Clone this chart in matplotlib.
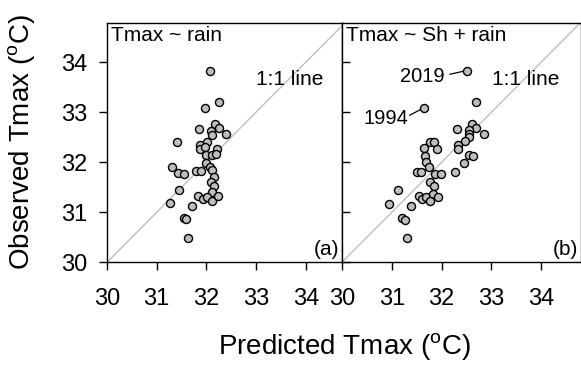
import matplotlib
matplotlib.use("Agg")
import matplotlib.pyplot as plt

plt.rcParams['font.family'] = ['Liberation Sans', 'DejaVu Sans']
plt.rcParams['mathtext.fontset'] = 'custom'
plt.rcParams['mathtext.rm'] = 'Liberation Sans'
plt.rcParams['mathtext.it'] = 'Liberation Sans:italic'

# Panel (a): Tmax ~ rain
pred_a = [32.07, 32.25, 31.97, 32.17, 32.25, 31.86, 32.09, 32.39, 32.11, 31.40,
          32.02, 31.87, 31.87, 31.97, 32.22, 31.99, 32.11, 32.19, 31.99, 32.07,
          32.12, 31.31, 31.42, 31.55, 31.80, 31.89, 32.16, 32.09, 32.16, 31.44,
          32.12, 31.84, 31.94, 32.02, 32.11, 32.23, 31.27, 31.71, 31.54, 31.59,
          31.64]
obs_a = [33.83, 33.21, 33.08, 32.76, 32.69, 32.66, 32.62, 32.57, 32.54, 32.41,
         32.41, 32.34, 32.27, 32.31, 32.27, 32.14, 32.14, 32.16, 31.99, 31.91,
         31.85, 31.91, 31.79, 31.77, 31.82, 31.82, 31.71, 31.61, 31.52, 31.45,
         31.41, 31.33, 31.27, 31.31, 31.22, 31.33, 31.19, 31.13, 30.89, 30.86,
         30.49]

# Panel (b): Tmax ~ Sh + rain
pred_b = [32.52, 31.64, 32.70, 32.62, 32.70, 32.56, 32.31, 32.86, 32.55, 32.55,
          32.47, 32.33, 32.33, 31.76, 31.84, 31.64, 31.91, 31.66, 32.56, 32.63,
          32.45, 31.69, 31.75, 32.26, 31.50, 31.58, 31.86, 31.99, 31.77, 31.84,
          31.12, 31.54, 31.60, 31.69, 31.82, 31.92, 31.77, 30.95, 31.39, 31.21,
          31.27, 31.31]
obs_b = [33.83, 33.08, 33.21, 32.77, 32.69, 32.64, 32.66, 32.57, 32.56, 32.51,
         32.42, 32.34, 32.26, 32.41, 32.41, 32.29, 32.27, 32.13, 32.14, 32.12,
         31.99, 32.00, 31.91, 31.81, 31.81, 31.81, 31.77, 31.77, 31.61, 31.52,
         31.44, 31.32, 31.27, 31.31, 31.37, 31.31, 31.22, 31.17, 31.12, 30.89,
         30.85, 30.49]

ticks = [30, 31, 32, 33, 34]
titles = ["Tmax ~ rain", "Tmax ~ Sh + rain"]
panel_tags = ["(a)", "(b)"]
labelled_years = ["2019", "1994"]
labelled_pts = [(32.52, 33.83), (31.64, 33.08)]

fig = plt.figure(figsize=(5.81, 3.67), dpi=100)
W, H = 581, 367
bot = (H - 262.3) / H
hgt = (262.3 - 22.7) / H
ax_a = fig.add_axes([107 / W, bot, 235 / W, hgt])
ax_b = fig.add_axes([342 / W, bot, 239 / W, hgt])

xlims = [(30, 34.73), (30, 34.8)]
for i, (ax, px, ob) in enumerate([(ax_a, pred_a, obs_a), (ax_b, pred_b, obs_b)]):
    ax.axline((30, 30), slope=1, color='#BEBEBE', lw=1.0, zorder=1)
    ax.plot(px, ob, 'o', ms=5.8, mfc='#BEBEBE', mec='black', mew=1.0,
            ls='none', zorder=3)
    ax.set_xlim(*xlims[i])
    ax.set_ylim(30, 34.79)
    ax.set_xticks(ticks)
    ax.set_yticks(ticks)
    for s in ax.spines.values():
        s.set_linewidth(1.0)
    ax.tick_params(axis='x', direction='out', length=5.8, width=1.0,
                   labelsize=17, pad=12.5)
    ax.text(0.015, 0.985, titles[i], transform=ax.transAxes, ha='left',
            va='top', fontsize=15)
    ax.text(0.99, 0.012, panel_tags[i], transform=ax.transAxes, ha='right',
            va='bottom', fontsize=15)
    ax.text(33.68, 33.66, "1:1 line", ha='center', va='center', fontsize=15)

ax_a.tick_params(axis='y', direction='out', length=5.8, width=1.0,
                 labelsize=17, pad=8.2)
ax_b.tick_params(axis='y', direction='in', length=5.8, width=1.0,
                 labelleft=False)

# annotations in panel (b)
ax_b.text(32.07, 33.72, labelled_years[0], ha='right', va='center', fontsize=14.5)
ax_b.plot([32.17, 32.44], [33.76, 33.82], color='black', lw=0.9)
ax_b.text(31.33, 32.88, labelled_years[1], ha='right', va='center', fontsize=14.5)
ax_b.plot([31.36, 31.57], [32.94, 33.05], color='black', lw=0.9)

fig.text(344 / W, 1 - 347 / H, r"Predicted Tmax ($^{\rm o}$C)", ha='center',
         va='center', fontsize=20)
fig.text(22 / W, 1 - 142 / H, r"Observed Tmax ($^{\rm o}$C)", ha='center',
         va='center', rotation=90, fontsize=20)

fig.savefig("out.png", dpi=100)
